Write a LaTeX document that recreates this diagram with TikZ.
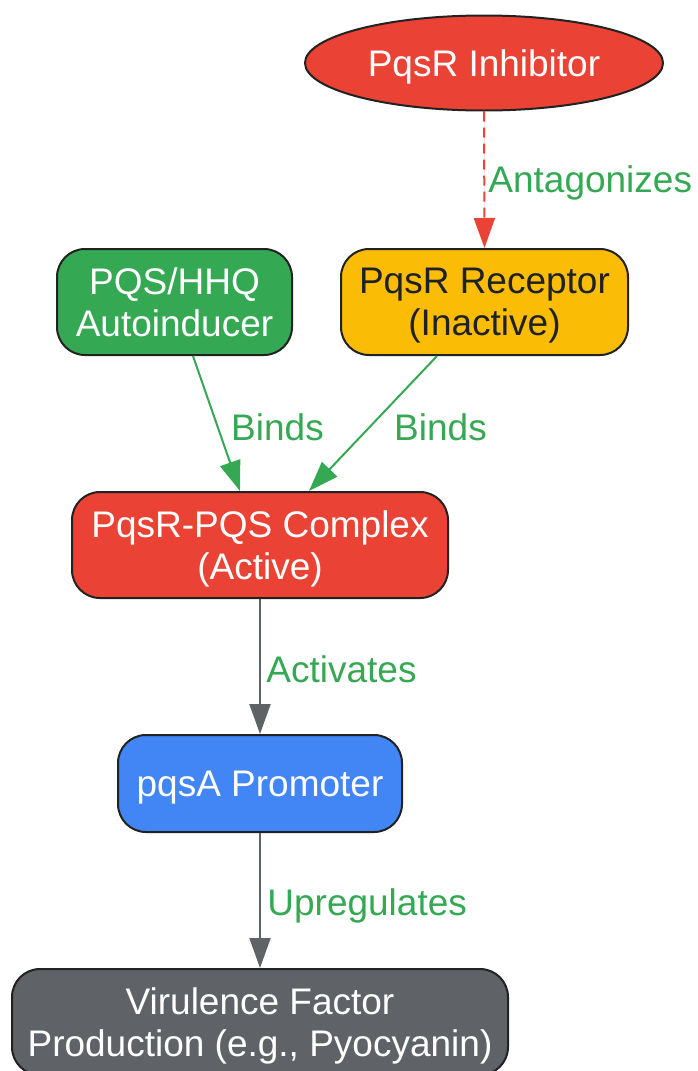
\documentclass[tikz,border=0pt]{standalone}
\usepackage{fontspec}
\setmainfont{Liberation Sans}
\usepackage{xcolor}
\definecolor{pqsred}{HTML}{EA4335}
\definecolor{pqsgreen}{HTML}{34A853}
\definecolor{pqsyellow}{HTML}{FBBC05}
\definecolor{pqsblue}{HTML}{4285F4}
\definecolor{pqsgrey}{HTML}{5F6368}
\definecolor{pqsline}{HTML}{222222}
\definecolor{pqsdark}{HTML}{202124}
\usetikzlibrary{arrows.meta,shapes.geometric}

\begin{document}
\begin{tikzpicture}[x=0.5pt,y=-0.5pt,
  every node/.style={font=\fontsize{18.5}{21}\selectfont},
  box/.style={draw=pqsline,line width=1pt,rounded corners=14pt,align=center,
    text=white,inner sep=0pt,text depth=0pt,minimum height=53pt},
  lbl/.style={text=pqsgreen,inner sep=0pt},
  tip/.style={-{Triangle[length=15pt,width=10.5pt]}},
  greyarrow/.style={tip,line width=1pt,draw=pqsgrey,fill=pqsgrey},
  greenarrow/.style={tip,line width=1pt,draw=pqsgreen,fill=pqsgreen},
  redarrow/.style={tip,line width=1pt,draw=pqsred,fill=pqsred,dash pattern=on 5pt off 3pt}]

\useasboundingbox (0,0) rectangle (697,1071);

\node[ellipse,draw=pqsline,line width=1pt,fill=pqsred,text=white,inner sep=0pt,text depth=0pt,
  minimum width=179pt,minimum height=47.5pt] (inhib) at (484,63) {PqsR Inhibitor};
\node[box,fill=pqsgreen,minimum width=117.5pt] (pqs) at (174.5,302) {PQS/HHQ\\Autoinducer};
\node[box,fill=pqsyellow,text=pqsdark,minimum width=143.5pt] (recept) at (484.5,302) {PqsR Receptor\\(Inactive)};
\node[box,fill=pqsred,minimum width=188pt] (complex) at (260,545) {PqsR-PQS Complex\\(Active)};
\node[box,fill=pqsblue,minimum width=142pt,minimum height=48.5pt] (promoter) at (260,783.5) {pqsA Promoter};
\node[box,fill=pqsgrey,minimum width=248pt] (virul) at (260,1022) {Virulence Factor\\Production (e.g., Pyocyanin)};

% connectors
\draw[redarrow] (inhib.south) -- (recept.north);
\draw[greenarrow] ([xshift=9.25pt]pqs.south) -- ([xshift=-10pt]complex.north);
\draw[greenarrow] ([xshift=-23.75pt]recept.south) -- ([xshift=24.5pt]complex.north);
\draw[greyarrow] (complex.south) -- (promoter.north);
\draw[greyarrow] (promoter.south) -- (virul.north);

% labels
\node[lbl,anchor=west] (antag) at (488,182.5) {Antagonizes};
\node[lbl] (bindsA) at (277.5,427) {Binds};
\node[lbl] (bindsB) at (440.5,427) {Binds};
\node[lbl,anchor=west] (activ) at (266,669) {Activates};
\node[lbl,anchor=west] (upreg) at (267,906) {Upregulates};
\end{tikzpicture}
\end{document}
